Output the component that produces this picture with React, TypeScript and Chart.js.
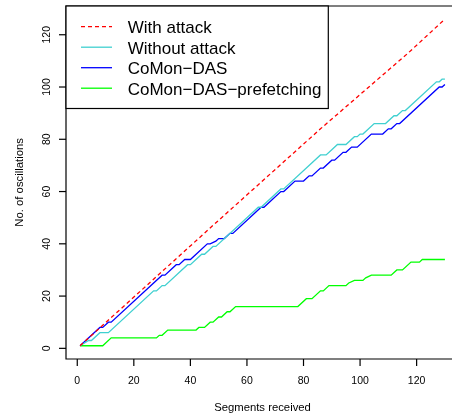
import React, { useEffect, useRef } from "react";
import { Chart, registerables } from "chart.js";

Chart.register(...registerables);

// Axis ticks
const xTicks = [0, 20, 40, 60, 80, 100, 120];
const yTicks = [0, 20, 40, 60, 80, 100, 120];

const xTitle = "Segments received";
const yTitle = "No. of oscillations";

const seriesLabels = ["With attack", "Without attack", "CoMon−DAS", "CoMon−DAS−prefetching"];
const seriesColors = ["#FF0000", "#40D0D0", "#0000FF", "#00FF00"];

// Cumulative oscillation counts (vertices of each step curve)
const withAttackX = [1, 50, 86, 117, 130];
const withAttackY = [1, 49, 84, 113, 126];

const withoutAttackX = [1, 4, 5, 8, 11, 27, 28, 30, 31, 39, 40, 44, 45, 48, 49, 62, 64, 65, 72, 73, 86, 88, 90, 92, 95, 98, 99, 100, 101, 105, 109, 112, 113, 115, 116, 127, 128, 129, 130];
const withoutAttackY = [1, 3, 3, 6, 6, 22, 22, 24, 24, 32, 32, 36, 36, 39, 39, 52, 54, 54, 61, 61, 74, 74, 76, 78, 78, 81, 81, 82, 82, 86, 86, 89, 89, 91, 91, 102, 102, 103, 103];

const comonX = [1, 8, 9, 11, 12, 30, 31, 35, 36, 38, 40, 46, 47, 49, 50, 52, 54, 55, 65, 66, 72, 73, 77, 80, 82, 83, 86, 87, 90, 91, 94, 95, 97, 99, 104, 108, 110, 111, 113, 114, 128, 129, 130];
const comonY = [1, 8, 8, 10, 10, 28, 28, 32, 32, 34, 34, 40, 40, 41, 42, 42, 44, 44, 54, 54, 60, 60, 64, 64, 66, 66, 69, 69, 72, 72, 75, 75, 77, 77, 82, 82, 84, 84, 86, 86, 100, 100, 101];

const prefetchX = [1, 9, 12, 28, 29, 30, 32, 42, 43, 45, 47, 48, 50, 51, 53, 54, 56, 78, 81, 83, 86, 87, 89, 95, 96, 98, 101, 102, 104, 111, 113, 115, 118, 121, 122, 130];
const prefetchY = [1, 1, 4, 4, 5, 5, 7, 7, 8, 8, 10, 10, 12, 12, 14, 14, 16, 16, 19, 19, 22, 22, 24, 24, 25, 26, 26, 27, 28, 28, 30, 30, 33, 33, 34, 34];

const FONT = '"Liberation Sans", Arial, Helvetica, sans-serif';

const toPoints = (xs: number[], ys: number[]) => xs.map((x, i) => ({ x, y: ys[i] }));

const frame = {
  id: "frame",
  afterDraw(chart: any) {
    const { ctx, chartArea: a, scales } = chart;
    const xs = scales.x;
    const ys = scales.y;
    const left = Math.round(a.left);
    const top = Math.round(a.top);
    const bottom = Math.round(a.bottom);
    ctx.save();
    ctx.strokeStyle = "#000";
    ctx.lineWidth = 1.2;

    // plot box
    ctx.beginPath();
    ctx.moveTo(a.right + 5, top);
    ctx.lineTo(left, top);
    ctx.lineTo(left, bottom);
    ctx.lineTo(a.right + 5, bottom);
    ctx.stroke();

    // x axis ticks and labels
    ctx.fillStyle = "#000";
    ctx.font = `10.5px ${FONT}`;
    ctx.textAlign = "center";
    ctx.textBaseline = "alphabetic";
    xTicks.forEach((v) => {
      const px = xs.getPixelForValue(v);
      ctx.beginPath();
      ctx.moveTo(px, bottom);
      ctx.lineTo(px, bottom + 7);
      ctx.stroke();
      ctx.fillText(String(v), px, 384);
    });

    // y axis ticks and rotated labels
    yTicks.forEach((v) => {
      const py = ys.getPixelForValue(v);
      ctx.beginPath();
      ctx.moveTo(left, py);
      ctx.lineTo(left - 7, py);
      ctx.stroke();
      ctx.save();
      ctx.translate(50, py);
      ctx.rotate(-Math.PI / 2);
      ctx.fillText(String(v), 0, 0);
      ctx.restore();
    });

    // axis titles
    ctx.font = `11.3px ${FONT}`;
    ctx.fillText(xTitle, (a.left + a.right) / 2, 411);
    ctx.save();
    ctx.translate(22.5, (a.top + a.bottom) / 2);
    ctx.rotate(-Math.PI / 2);
    ctx.fillText(yTitle, 0, 0);
    ctx.restore();

    // legend
    const lx = left;
    const ly = top;
    const lw = 262.3;
    const lh = 102.5;
    ctx.fillStyle = "#fff";
    ctx.fillRect(lx, ly, lw, lh);
    ctx.strokeStyle = "#000";
    ctx.lineWidth = 1.2;
    ctx.strokeRect(lx, ly, lw, lh);
    ctx.font = `17px ${FONT}`;
    ctx.textAlign = "left";
    chart.data.datasets.forEach((ds: any, i: number) => {
      const rowY = 26.7 + 20.5 * i;
      ctx.beginPath();
      ctx.strokeStyle = ds.borderColor;
      ctx.lineWidth = 1.3;
      ctx.setLineDash(ds.borderDash || []);
      ctx.moveTo(81, rowY);
      ctx.lineTo(112, rowY);
      ctx.stroke();
      ctx.setLineDash([]);
      ctx.fillStyle = "#000";
      ctx.fillText(ds.label, 127.7, rowY + 6.4);
    });
    ctx.restore();
  },
};

export default function App() {
  const ref = useRef<HTMLCanvasElement>(null);

  useEffect(() => {
    const canvas = ref.current;
    if (!canvas) return;
    const series = [
      toPoints(withAttackX, withAttackY),
      toPoints(withoutAttackX, withoutAttackY),
      toPoints(comonX, comonY),
      toPoints(prefetchX, prefetchY),
    ];
    const chart = new Chart(canvas, {
      type: "line",
      data: {
        datasets: series.map((data, i) => ({
          label: seriesLabels[i],
          data,
          borderColor: seriesColors[i],
          backgroundColor: seriesColors[i],
          borderWidth: 1.3,
          borderDash: i === 0 ? [4, 3] : undefined,
          pointRadius: 0,
          tension: 0,
          fill: false,
        })),
      },
      options: {
        animation: false,
        responsive: false,
        devicePixelRatio: 1,
        layout: { padding: { top: 6, right: 10.5, left: 0, bottom: 0 } },
        plugins: { legend: { display: false }, tooltip: { enabled: false } },
        scales: {
          x: {
            type: "linear",
            bounds: "data",
            min: -4.16,
            max: 135.16,
            ticks: { display: false },
            grid: { display: false },
            border: { display: false },
            afterFit: (s: any) => {
              s.height = 57.2;
            },
          },
          y: {
            type: "linear",
            bounds: "data",
            min: -4,
            max: 131,
            ticks: { display: false },
            grid: { display: false },
            border: { display: false },
            afterFit: (s: any) => {
              s.width = 65.5;
            },
          },
        },
      },
      plugins: [frame],
    } as any);
    return () => chart.destroy();
  }, []);

  return (
    <div
      style={{
        position: "fixed",
        left: 0,
        top: 0,
        width: 452,
        height: 416,
        overflow: "hidden",
        background: "#fff",
      }}
    >
      <canvas ref={ref} width={470} height={416} style={{ display: "block", width: 470, height: 416 }} />
    </div>
  );
}
